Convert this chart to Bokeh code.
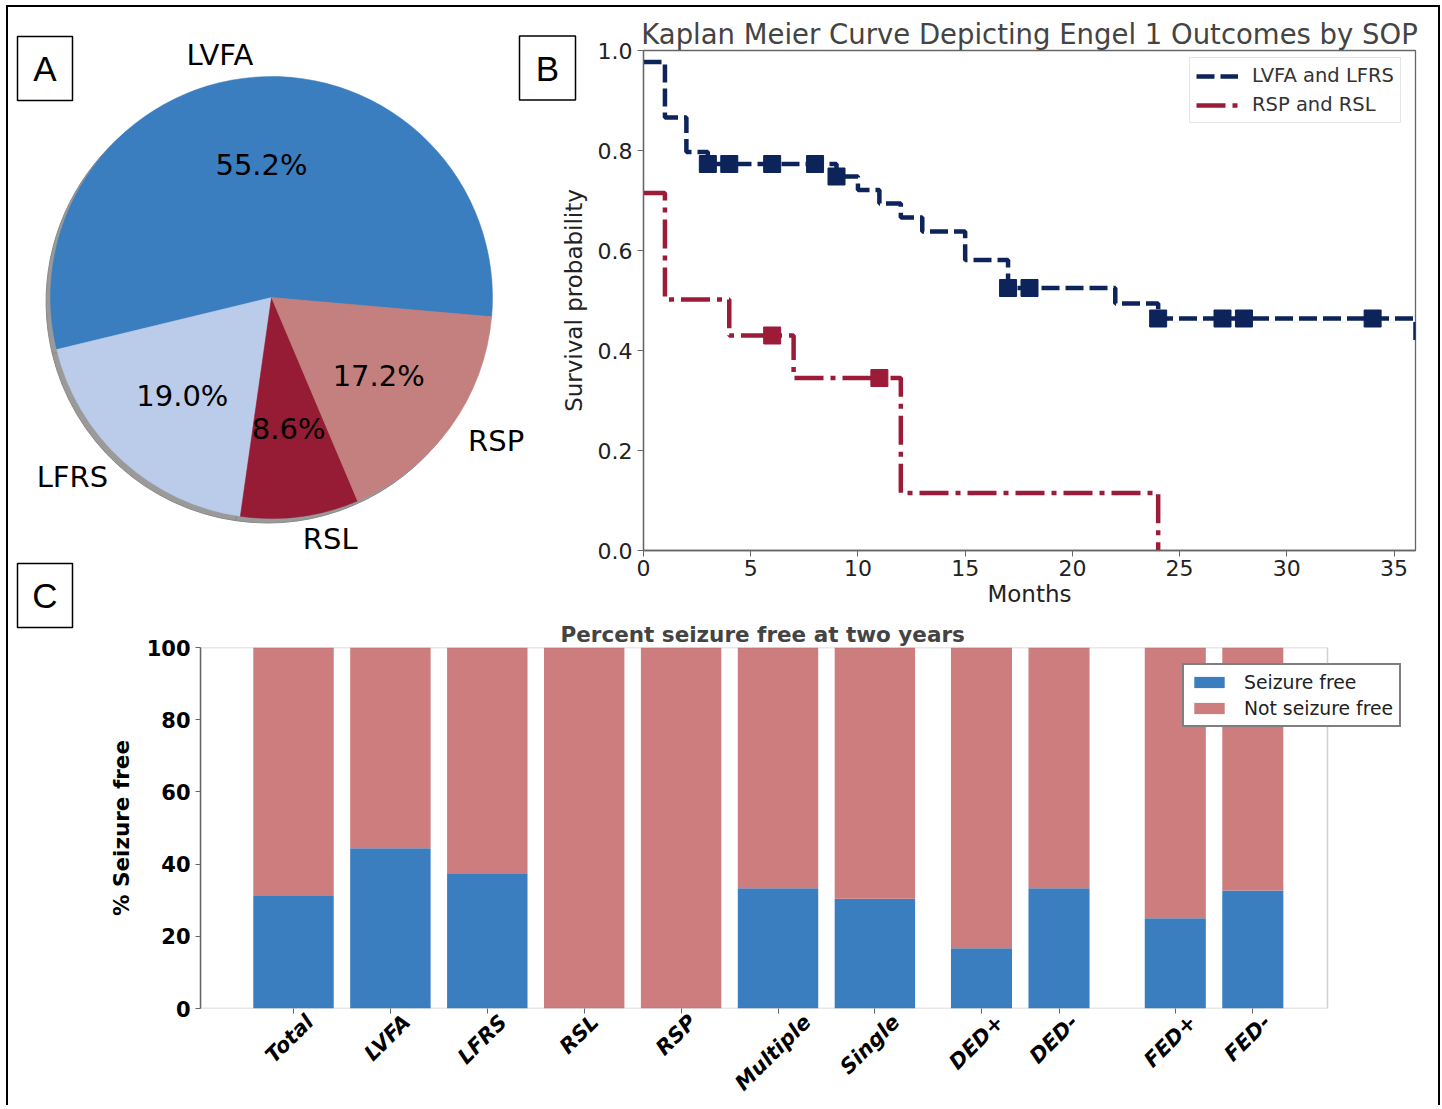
import math
import numpy as np
from bokeh.plotting import figure
from bokeh.models import (Range1d, FixedTicker, Legend, LegendItem, LinearAxis, BoxAnnotation,
                          ColumnDataSource, NumeralTickFormatter, CustomJSTickFormatter, Div)
from bokeh.embed import file_html
from bokeh.resources import INLINE
from bokeh.core.properties import value

# ---------------- data ----------------
pie_labels = ["LVFA", "LFRS", "RSL", "RSP"]
pie_counts = [32, 11, 5, 10]

km_title = "Kaplan Meier Curve Depicting Engel 1 Outcomes by SOP"
left_label = "LVFA and LFRS"
left_times = [0, 1, 2, 3, 9, 10, 11, 12, 13, 15, 17, 22, 24, 36]
left_surv = [0.977, 0.866, 0.797, 0.773, 0.748, 0.721, 0.694, 0.666, 0.638, 0.581, 0.525, 0.494, 0.464, 0.42]
left_censored = [3, 4, 6, 8, 9, 17, 18, 24, 27, 28, 34]
right_label = "RSP and RSL"
right_times = [0, 1, 4, 7, 12, 24]
right_surv = [0.715, 0.502, 0.430, 0.345, 0.115, 0.0]
right_censored = [6, 11]
km_xticks = [0, 5, 10, 15, 20, 25, 30, 35]
km_yticks = [0.0, 0.2, 0.4, 0.6, 0.8, 1.0]

bar_title = "Percent seizure free at two years"
bar_categories = ["Total", "LVFA", "LFRS", "RSL", "RSP", "Multiple", "Single",
                  "DED+", "DED-", "FED+", "FED-"]
bar_seizure_free = [31.4, 44.4, 37.5, 0.0, 0.0, 33.3, 30.4, 16.7, 33.3, 25.0, 32.7]
bar_yticks = [0, 20, 40, 60, 80, 100]
panel_letters = ["A", "B", "C"]

# ---------------- styles / layout ----------------
FONT = "DejaVu Sans"
PIE_COLORS = ["#3A7EBF", "#BBCCEA", "#961B34", "#C47F7F"]
NAVY = "#0C2459"
CRIMSON = "#9C1B38"
BAR_BLUE = "#3A7EBF"
BAR_PINK = "#CD7D7D"
FRAME = "#666666"


def place(left, top):
    return {"position": "absolute", "left": f"{left}px", "top": f"{top}px", "margin": "0px"}


# ---------------- panel A : pie (canvas units = pixels) ----------------
PIE_L, PIE_T, PIE_W, PIE_H = 8, 7, 570, 622
pie = figure(width=PIE_W, height=PIE_H, x_range=Range1d(0, PIE_W), y_range=Range1d(0, PIE_H),
             output_backend="svg", toolbar_location=None,
             min_border_left=0, min_border_right=0, min_border_top=0, min_border_bottom=0,
             styles=place(PIE_L, PIE_T))
pie.axis.visible = False
pie.grid.visible = False
pie.outline_line_color = None
pie.background_fill_color = None
pie.border_fill_color = None


def px(x):          # page x -> pie canvas x
    return x - PIE_L


def py(y):          # page y -> pie canvas y (up)
    return PIE_T + PIE_H - y


cx, cy, rad = px(271), py(297), 221.0
start_deg = -5.0
counts = np.array(pie_counts, dtype=float)
frac = counts / counts.sum()
ends = np.radians(start_deg) + 2 * np.pi * np.cumsum(frac)
starts = np.concatenate([[np.radians(start_deg)], ends[:-1]])
mids = (starts + ends) / 2

shadow = 0.02 * rad
pie.wedge(x=cx - shadow, y=cy - shadow, radius=rad, start_angle=starts, end_angle=ends,
          fill_color="#9a9a9a", line_color="#8a8a8a", line_width=1)
pie.wedge(x=cx, y=cy, radius=rad, start_angle=starts, end_angle=ends,
          fill_color=PIE_COLORS, line_color=PIE_COLORS, line_width=0.5)

lab_src = ColumnDataSource(dict(
    x=cx + 1.1 * rad * np.cos(mids), y=cy + 1.1 * rad * np.sin(mids), t=pie_labels,
    align=["left" if np.cos(m) > 0 else "right" for m in mids]))
pie.text(x="x", y="y", text="t", text_align="align", text_baseline="middle", source=lab_src,
         text_font=value(FONT), text_font_size="29px", text_color="black")
pct_src = ColumnDataSource(dict(
    x=cx + 0.6 * rad * np.cos(mids), y=cy + 0.6 * rad * np.sin(mids),
    t=[f"{100 * f:.1f}%" for f in frac]))
pie.text(x="x", y="y", text="t", text_align="center", text_baseline="middle", source=pct_src,
         text_font=value(FONT), text_font_size="29px", text_color="black")

# panel letter boxes (page centres)
box_cx = [px(44.5), px(547), px(44.5)]
box_cy = [py(68), py(67.5), py(595)]
box_w = [55, 56, 55]
pie.rect(x=box_cx, y=box_cy, width=box_w, height=64, fill_color="white", line_color="black",
         line_width=1.5)
pie.text(x=box_cx, y=box_cy, text=panel_letters, text_align="center", text_baseline="middle",
         text_font=value("Liberation Sans"), text_font_size="35px", text_color="black")

# ---------------- panel B : Kaplan Meier ----------------
KM_L, KM_T = 520, 7
KM_FL, KM_FR, KM_FT, KM_FB = 643, 1415, 50, 550
KM_W, KM_H = 1437 - KM_L, 612 - KM_T
km = figure(width=KM_W, height=KM_H, x_range=Range1d(0, 36), y_range=Range1d(0, 1),
            output_backend="svg", toolbar_location=None, title=km_title,
            min_border_left=KM_FL - KM_L, min_border_right=KM_L + KM_W - KM_FR,
            min_border_top=KM_FT - KM_T, min_border_bottom=KM_T + KM_H - KM_FB,
            styles=place(KM_L, KM_T))
km.border_fill_color = None
km.title.text_font = FONT
km.title.text_font_size = "27.5px"
km.title.text_font_style = "normal"
km.title.align = "center"
km.title.standoff = 1
km.grid.visible = False
km.outline_line_color = FRAME
km.outline_line_width = 1.3
km.xaxis.ticker = FixedTicker(ticks=km_xticks)
km.yaxis.ticker = FixedTicker(ticks=km_yticks)
km.yaxis.formatter = NumeralTickFormatter(format="0.0")
km.xaxis.axis_label = "Months"
km.yaxis.axis_label = "Survival probability"
for ax in km.axis:
    ax.axis_line_color = FRAME
    ax.axis_line_width = 1.3
    ax.major_tick_line_color = FRAME
    ax.major_tick_out = 6
    ax.major_tick_in = 0
    ax.minor_tick_line_color = None
    ax.major_label_text_font = FONT
    ax.major_label_text_font_size = "22px"
    ax.major_label_text_color = "#222222"
    ax.axis_label_text_font = FONT
    ax.axis_label_text_font_size = "23px"
    ax.axis_label_text_font_style = "normal"
    ax.axis_label_text_color = "#222222"
km.xaxis.major_label_standoff = 3
km.xaxis.axis_label_standoff = 2
km.yaxis.axis_label_standoff = 8


def step_at(times, surv, t):
    idx = np.searchsorted(np.array(times, dtype=float), np.array(t, dtype=float), side="right") - 1
    return np.array(surv)[idx]


r_left = km.step(x=left_times, y=left_surv, mode="after", line_color=NAVY, line_width=4.5,
                 line_dash="18 6")
km.scatter(x=left_censored, y=step_at(left_times, left_surv, left_censored), marker="square",
           size=17, fill_color=NAVY, line_color=NAVY)
r_right = km.step(x=right_times, y=right_surv, mode="after", line_color=CRIMSON, line_width=4.5,
                  line_dash="29 7 5 7")
km.scatter(x=right_censored, y=step_at(right_times, right_surv, right_censored), marker="square",
           size=17, fill_color=CRIMSON, line_color=CRIMSON)

km_leg = Legend(items=[LegendItem(label=left_label, renderers=[r_left]),
                       LegendItem(label=right_label, renderers=[r_right])],
                location=(1189 - KM_FL, KM_FB - 123), margin=0, padding=6, spacing=6,
                glyph_width=42, glyph_height=22, label_height=22, label_standoff=14,
                label_text_font=FONT, label_text_font_size="19.5px", label_text_color="#333333",
                border_line_color="#cccccc", border_line_width=1.5, background_fill_alpha=0.9)
km.add_layout(km_leg)

# ---------------- panel C : bars ----------------
BAR_L, BAR_T = 8, 612
BAR_W, BAR_H = 1437 - BAR_L, 1108 - BAR_T
B_FL, B_FR_AXES, B_FR, B_FT, B_FB = 200, 1327, 1405, 647, 1008
positions = [0, 1, 2, 3, 4, 5, 6, 7.1, 7.9, 9.1, 9.9]
widths = [0.83] * 7 + [0.63] * 4
unit_px = 96.9
x_lo = -(293 - B_FL) / unit_px
x_axes_hi = x_lo + (B_FR_AXES - B_FL) / unit_px
x_hi = x_lo + (B_FR - B_FL) / unit_px

sf = np.array(bar_seizure_free)
bsrc = ColumnDataSource(dict(x=positions, w=widths, sf=sf, top=np.full(len(sf), 100.0)))

bar = figure(width=BAR_W, height=BAR_H, x_range=Range1d(x_lo, x_hi), y_range=Range1d(0, 100),
             output_backend="svg", toolbar_location=None, title=bar_title,
             min_border_left=B_FL - BAR_L, min_border_right=BAR_L + BAR_W - B_FR,
             min_border_top=B_FT - BAR_T, min_border_bottom=BAR_T + BAR_H - B_FB,
             styles=place(BAR_L, BAR_T))
bar.border_fill_color = None
bar.title.text_font = FONT
bar.title.text_font_size = "21.5px"
bar.title.text_font_style = "bold"
bar.title.align = "left"
bar.title.offset = 560 - B_FL
bar.title.standoff = 2
bar.grid.visible = False
bar.outline_line_color = None
bar.add_layout(BoxAnnotation(left=x_lo, right=x_axes_hi, bottom=0, top=100, fill_alpha=0,
                             line_color=FRAME, line_width=1.5, level="overlay"))

r_sf = bar.vbar(x="x", width="w", bottom=0, top="sf", source=bsrc, fill_color=BAR_BLUE,
                line_color=None)
r_nsf = bar.vbar(x="x", width="w", bottom="sf", top="top", source=bsrc, fill_color=BAR_PINK,
                 line_color=None)

# tick marks at bar centres (no labels)
bar.xaxis.ticker = FixedTicker(ticks=positions)
bar.xaxis.formatter = CustomJSTickFormatter(code="return '';")
bar.xaxis.major_label_standoff = 0
bar.xaxis.axis_line_color = None
bar.xaxis.major_tick_line_color = FRAME
bar.xaxis.major_tick_out = 5
bar.xaxis.major_tick_in = 0
bar.xaxis.minor_tick_line_color = None

# rotated category labels, centred under the ticks (as matplotlib ha="center")
LABEL_PX = 21
bold_em = {'T': .682, 'o': .687, 't': .478, 'a': .675, 'l': .343, 'L': .637, 'V': .774,
           'F': .683, 'A': .774, 'R': .770, 'S': .720, 'P': .733, 'M': .995, 'u': .712,
           'i': .343, 'p': .716, 'e': .678, 'g': .716, 'n': .712, 'D': .830, 'E': .683,
           '+': .838, '-': .415}
label_pos = [p + (0.354 * sum(bold_em.get(ch, 0.7) for ch in name) * LABEL_PX - 5) / unit_px
             for p, name in zip(positions, bar_categories)]
cat_axis = LinearAxis(ticker=FixedTicker(ticks=label_pos),
                      formatter=CustomJSTickFormatter(
                          args=dict(pos=label_pos, names=bar_categories),
                          code="""
                          for (let i = 0; i < pos.length; i++) {
                              if (Math.abs(tick - pos[i]) < 1e-6) return names[i];
                          }
                          return "";
                          """),
                      axis_line_color=None, major_tick_line_color=None, minor_tick_line_color=None,
                      major_tick_out=0, major_tick_in=0, major_label_standoff=5,
                      major_label_orientation=math.pi / 4,
                      major_label_text_font=FONT, major_label_text_font_size=f"{LABEL_PX}px",
                      major_label_text_font_style="bold italic", major_label_text_color="black")
bar.add_layout(cat_axis, "below")

bar.yaxis.ticker = FixedTicker(ticks=bar_yticks)
bar.yaxis.axis_label = "% Seizure free"
ya = bar.yaxis[0]
ya.axis_line_color = FRAME
ya.axis_line_width = 1.5
ya.major_tick_line_color = FRAME
ya.major_tick_out = 5
ya.major_tick_in = 0
ya.minor_tick_line_color = None
ya.major_label_text_font = FONT
ya.major_label_text_font_size = "21px"
ya.major_label_text_font_style = "bold"
ya.major_label_text_color = "black"
ya.axis_label_text_font = FONT
ya.axis_label_text_font_size = "21.5px"
ya.axis_label_text_font_style = "bold"
ya.axis_label_text_color = "black"
ya.axis_label_standoff = 10

bar_leg = Legend(items=[LegendItem(label="Seizure free", renderers=[r_sf]),
                        LegendItem(label="Not seizure free", renderers=[r_nsf])],
                 location=(1182 - B_FL, B_FB - 727), margin=0, padding=6, spacing=4,
                 glyph_width=38, glyph_height=14, label_height=22, label_standoff=16,
                 label_text_font=FONT, label_text_font_size="18.8px", label_text_color="#222222",
                 border_line_color="black", border_line_width=2, background_fill_alpha=1.0)
bar.add_layout(bar_leg)

# outer frame of the whole figure
frame_div = Div(text="", width=1434, height=1100, margin=0,
                styles={**place(6, 5), "box-sizing": "border-box",
                        "border-top": "2px solid black", "border-left": "2px solid black",
                        "border-right": "2px solid black"})

open("out.html", "w").write(file_html([frame_div, pie, km, bar], INLINE))
